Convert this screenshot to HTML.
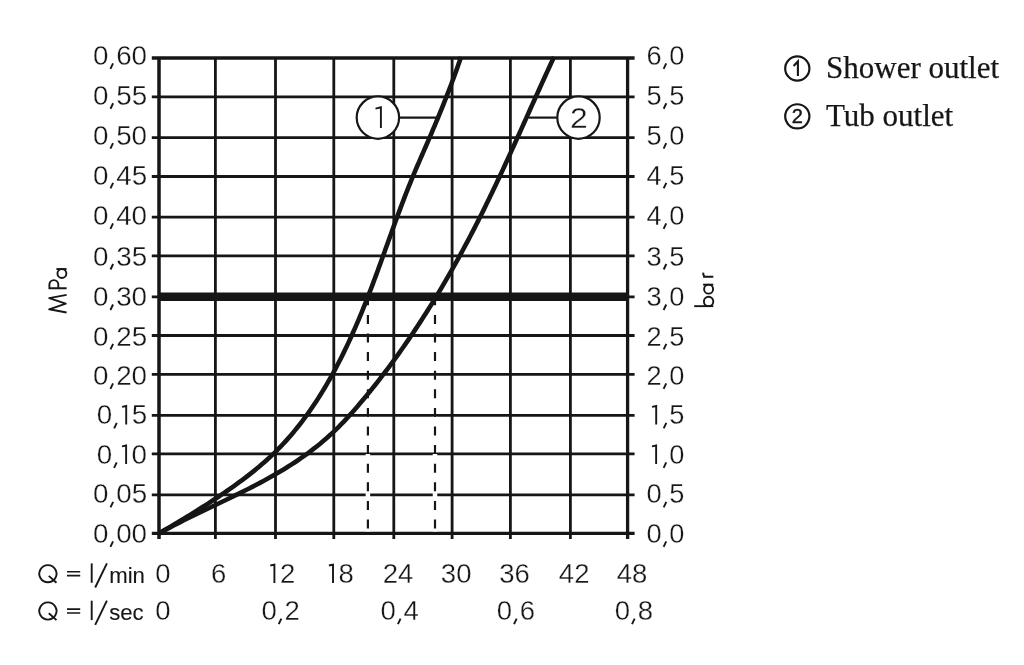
<!DOCTYPE html>
<html><head><meta charset="utf-8"><style>
html,body{margin:0;padding:0;background:#fff;width:1024px;height:665px;overflow:hidden}
svg{display:block;will-change:transform}
</style></head><body>
<svg width="1024" height="665" viewBox="0 0 1024 665">
<g stroke="#161616" fill="none">
<line x1="215.4" y1="58" x2="215.4" y2="538.9" stroke-width="2.8"/>
<line x1="275.5" y1="58" x2="275.5" y2="538.9" stroke-width="2.8"/>
<line x1="333.8" y1="58" x2="333.8" y2="538.9" stroke-width="2.8"/>
<line x1="393.8" y1="58" x2="393.8" y2="538.9" stroke-width="2.8"/>
<line x1="452.1" y1="58" x2="452.1" y2="538.9" stroke-width="2.8"/>
<line x1="510.4" y1="58" x2="510.4" y2="538.9" stroke-width="2.8"/>
<line x1="570.4" y1="58" x2="570.4" y2="538.9" stroke-width="2.8"/>
<line x1="151.8" y1="96.9" x2="634.6" y2="96.9" stroke-width="2.8"/>
<line x1="151.8" y1="137.6" x2="634.6" y2="137.6" stroke-width="2.8"/>
<line x1="151.8" y1="176.5" x2="634.6" y2="176.5" stroke-width="2.8"/>
<line x1="151.8" y1="217.2" x2="634.6" y2="217.2" stroke-width="2.8"/>
<line x1="151.8" y1="255.9" x2="634.6" y2="255.9" stroke-width="2.8"/>
<line x1="151.8" y1="335.5" x2="634.6" y2="335.5" stroke-width="2.8"/>
<line x1="151.8" y1="374.3" x2="634.6" y2="374.3" stroke-width="2.8"/>
<line x1="151.8" y1="415.3" x2="634.6" y2="415.3" stroke-width="2.8"/>
<line x1="151.8" y1="453.9" x2="634.6" y2="453.9" stroke-width="2.8"/>
<line x1="151.8" y1="494.8" x2="634.6" y2="494.8" stroke-width="2.8"/>
<line x1="159" y1="296.8" x2="627.6" y2="296.8" stroke-width="8.4"/>
<line x1="151.8" y1="296.8" x2="634.6" y2="296.8" stroke-width="2.8"/>
<line x1="151.8" y1="58" x2="634.6" y2="58" stroke-width="3.3"/>
<line x1="151.8" y1="533.4" x2="634.6" y2="533.4" stroke-width="3.3"/>
<line x1="159" y1="58" x2="159" y2="538.9" stroke-width="3.5"/>
<line x1="627.6" y1="58" x2="627.6" y2="538.9" stroke-width="3.3"/>
<line x1="367.9" y1="300" x2="367.9" y2="531.5" stroke="#fff" stroke-width="4.5" stroke-dasharray="0 5.2 9.6 3.8" stroke-dashoffset="0"/>
<line x1="435" y1="300" x2="435" y2="531.5" stroke="#fff" stroke-width="4.5" stroke-dasharray="0 5.2 9.6 3.8" stroke-dashoffset="0"/>
<path d="M159.00,533.40 L162.07,531.61 L165.16,529.81 L168.25,527.99 L171.35,526.16 L174.46,524.32 L177.58,522.46 L180.70,520.58 L183.83,518.70 L186.95,516.79 L190.08,514.88 L193.21,512.94 L196.33,511.00 L199.46,509.04 L202.58,507.06 L205.69,505.07 L208.80,503.07 L211.90,501.05 L214.99,499.02 L218.06,496.97 L221.13,494.91 L224.19,492.83 L227.23,490.74 L230.25,488.63 L233.26,486.51 L236.25,484.37 L239.22,482.21 L242.16,480.03 L245.09,477.82 L248.00,475.60 L250.87,473.35 L253.73,471.08 L256.55,468.77 L259.35,466.44 L262.12,464.09 L264.85,461.70 L267.56,459.27 L270.23,456.82 L272.87,454.33 L275.47,451.80 L278.03,449.24 L280.56,446.65 L283.05,444.02 L285.51,441.35 L287.93,438.66 L290.32,435.93 L292.68,433.17 L295.00,430.38 L297.29,427.56 L299.55,424.71 L301.77,421.83 L303.97,418.93 L306.13,415.99 L308.26,413.04 L310.36,410.05 L312.44,407.05 L314.48,404.01 L316.50,400.96 L318.48,397.88 L320.44,394.78 L322.37,391.66 L324.28,388.53 L326.15,385.37 L328.00,382.19 L329.83,379.00 L331.63,375.78 L333.41,372.55 L335.16,369.31 L336.88,366.05 L338.59,362.78 L340.27,359.49 L341.93,356.19 L343.56,352.88 L345.17,349.56 L346.77,346.23 L348.34,342.89 L349.89,339.54 L351.42,336.18 L352.93,332.81 L354.42,329.44 L355.89,326.06 L357.35,322.68 L358.79,319.29 L360.20,315.90 L361.61,312.51 L362.99,309.11 L364.36,305.71 L365.72,302.32 L367.05,298.92 L368.38,295.52 L369.69,292.12 L370.99,288.71 L372.28,285.31 L373.56,281.91 L374.83,278.51 L376.09,275.10 L377.35,271.70 L378.59,268.29 L379.83,264.89 L381.07,261.48 L382.30,258.07 L383.53,254.67 L384.76,251.26 L385.98,247.85 L387.21,244.44 L388.43,241.03 L389.66,237.63 L390.89,234.22 L392.12,230.81 L393.35,227.40 L394.59,223.99 L395.84,220.57 L397.09,217.16 L398.35,213.75 L399.62,210.34 L400.90,206.93 L402.19,203.52 L403.48,200.11 L404.80,196.70 L406.12,193.28 L407.46,189.87 L408.81,186.46 L410.18,183.05 L411.56,179.64 L412.96,176.22 L414.38,172.81 L415.82,169.40 L417.28,165.99 L418.75,162.58 L420.23,159.17 L421.72,155.76 L423.21,152.35 L424.70,148.93 L426.18,145.52 L427.65,142.11 L429.12,138.70 L430.58,135.30 L432.04,131.89 L433.48,128.48 L434.92,125.07 L436.34,121.66 L437.76,118.25 L439.17,114.85 L440.56,111.44 L441.95,108.03 L443.32,104.63 L444.68,101.22 L446.03,97.82 L447.36,94.42 L448.68,91.01 L449.99,87.61 L451.28,84.21 L452.55,80.81 L453.81,77.41 L455.05,74.01 L456.28,70.61 L457.48,67.21 L458.67,63.81 L459.84,60.42 L460.99,57.02" fill="none" stroke-width="4.6" stroke-linecap="butt" stroke-linejoin="round"/>
<path d="M159.00,533.40 L162.49,531.47 L166.00,529.56 L169.53,527.67 L173.07,525.81 L176.63,523.96 L180.20,522.13 L183.79,520.32 L187.39,518.53 L191.00,516.74 L194.62,514.97 L198.24,513.21 L201.88,511.45 L205.52,509.70 L209.16,507.95 L212.81,506.21 L216.45,504.46 L220.10,502.72 L223.75,500.97 L227.39,499.21 L231.04,497.45 L234.67,495.68 L238.31,493.90 L241.93,492.10 L245.55,490.29 L249.15,488.47 L252.75,486.63 L256.33,484.76 L259.90,482.88 L263.46,480.97 L267.00,479.04 L270.52,477.08 L274.03,475.10 L277.51,473.08 L280.98,471.03 L284.42,468.94 L287.84,466.83 L291.23,464.67 L294.60,462.47 L297.94,460.24 L301.25,457.96 L304.53,455.64 L307.78,453.29 L311.00,450.89 L314.18,448.44 L317.33,445.95 L320.43,443.42 L323.50,440.85 L326.53,438.23 L329.52,435.56 L332.46,432.85 L335.36,430.09 L338.22,427.28 L341.04,424.43 L343.82,421.55 L346.56,418.63 L349.27,415.68 L351.96,412.69 L354.61,409.68 L357.24,406.65 L359.85,403.60 L362.44,400.53 L365.01,397.44 L367.57,394.34 L370.10,391.22 L372.62,388.09 L375.13,384.95 L377.61,381.80 L380.09,378.63 L382.54,375.44 L384.98,372.25 L387.40,369.04 L389.81,365.82 L392.20,362.59 L394.58,359.34 L396.94,356.08 L399.28,352.81 L401.61,349.53 L403.92,346.24 L406.22,342.93 L408.50,339.61 L410.77,336.29 L413.02,332.95 L415.26,329.60 L417.49,326.24 L419.70,322.87 L421.89,319.49 L424.07,316.10 L426.24,312.70 L428.39,309.29 L430.52,305.87 L432.65,302.44 L434.76,299.01 L436.85,295.56 L438.94,292.10 L441.00,288.64 L443.06,285.17 L445.10,281.69 L447.13,278.20 L449.14,274.70 L451.15,271.19 L453.14,267.68 L455.11,264.16 L457.08,260.64 L459.03,257.10 L460.96,253.56 L462.89,250.01 L464.80,246.46 L466.71,242.90 L468.60,239.33 L470.47,235.76 L472.34,232.18 L474.19,228.60 L476.03,225.01 L477.86,221.41 L479.68,217.81 L481.49,214.21 L483.29,210.60 L485.07,206.98 L486.84,203.36 L488.61,199.74 L490.36,196.11 L492.11,192.48 L493.84,188.85 L495.57,185.21 L497.29,181.57 L499.00,177.92 L500.71,174.28 L502.41,170.63 L504.10,166.97 L505.78,163.32 L507.46,159.66 L509.14,156.00 L510.81,152.34 L512.47,148.67 L514.14,145.01 L515.80,141.34 L517.45,137.67 L519.11,134.00 L520.76,130.33 L522.41,126.66 L524.05,122.99 L525.70,119.32 L527.35,115.64 L529.00,111.97 L530.64,108.30 L532.29,104.63 L533.94,100.96 L535.59,97.28 L537.25,93.62 L538.90,89.95 L540.56,86.28 L542.23,82.61 L543.89,78.95 L545.56,75.28 L547.24,71.62 L548.92,67.96 L550.61,64.31 L552.30,60.65 L554.00,57.00" fill="none" stroke-width="4.6" stroke-linecap="butt" stroke-linejoin="round"/>
<line x1="367.9" y1="296.3" x2="367.9" y2="531" stroke-width="2.2" stroke-dasharray="9 9.6"/>
<line x1="435" y1="296.3" x2="435" y2="531" stroke-width="2.2" stroke-dasharray="9 9.6"/>
<line x1="400" y1="117.6" x2="436.3" y2="117.6" stroke-width="2.2"/>
<circle cx="377.9" cy="117.6" r="21.2" fill="#fff" stroke-width="2.2"/>
<line x1="528.4" y1="117.6" x2="556.8" y2="117.6" stroke-width="2.2"/>
<circle cx="578.5" cy="117.6" r="21.2" fill="#fff" stroke-width="2.2"/>
<path d="M67,571.8 H80.2 M67,575.6 H80.2" stroke-width="1.55"/>
<path d="M67,609.1 H80.2 M67,612.9 H80.2" stroke-width="1.55"/>
</g>
<g fill="#161616" font-family="Liberation Sans, sans-serif" font-size="27" stroke="#fff" stroke-width="0.3">
<text transform="translate(0,65) scale(1.03,1)" x="90.26 112.77 127.79" y="0">060</text>
<text transform="translate(0,65) scale(1.01,1)" x="640.06 662.58" y="0">60</text>
<text transform="translate(0,104.83) scale(1.03,1)" x="90.33 112.85 127.86" y="0">055</text>
<text transform="translate(0,104.83) scale(1.01,1)" x="640.13 662.65" y="0">55</text>
<text transform="translate(0,144.67) scale(1.03,1)" x="90.26 112.77 127.79" y="0">050</text>
<text transform="translate(0,144.67) scale(1.01,1)" x="640.06 662.58" y="0">50</text>
<text transform="translate(0,184.5) scale(1.03,1)" x="90.33 112.85 127.86" y="0">045</text>
<text transform="translate(0,184.5) scale(1.01,1)" x="640.13 662.65" y="0">45</text>
<text transform="translate(0,225.03) scale(1.03,1)" x="90.26 112.77 127.79" y="0">040</text>
<text transform="translate(0,225.03) scale(1.01,1)" x="640.06 662.58" y="0">40</text>
<text transform="translate(0,265.57) scale(1.03,1)" x="90.33 112.85 127.86" y="0">035</text>
<text transform="translate(0,265.57) scale(1.01,1)" x="640.13 662.65" y="0">35</text>
<text transform="translate(0,306.1) scale(1.03,1)" x="90.26 112.77 127.79" y="0">030</text>
<text transform="translate(0,306.1) scale(1.01,1)" x="640.06 662.58" y="0">30</text>
<text transform="translate(0,345.53) scale(1.03,1)" x="90.33 112.85 127.86" y="0">025</text>
<text transform="translate(0,345.53) scale(1.01,1)" x="640.13 662.65" y="0">25</text>
<text transform="translate(0,384.97) scale(1.03,1)" x="90.26 112.77 127.79" y="0">020</text>
<text transform="translate(0,384.97) scale(1.01,1)" x="640.06 662.58" y="0">20</text>
<text transform="translate(0,424.4) scale(1.03,1)" x="93.89 127.86" y="0">05</text>
<text transform="translate(0,424.4) scale(1.01,1)" x="662.65" y="0">5</text>
<text transform="translate(0,463.93) scale(1.03,1)" x="93.82 127.79" y="0">00</text>
<text transform="translate(0,463.93) scale(1.01,1)" x="662.58" y="0">0</text>
<text transform="translate(0,503.47) scale(1.03,1)" x="90.33 112.85 127.86" y="0">005</text>
<text transform="translate(0,503.47) scale(1.01,1)" x="640.13 662.65" y="0">05</text>
<text transform="translate(0,543) scale(1.03,1)" x="90.26 112.77 127.79" y="0">000</text>
<text transform="translate(0,543) scale(1.01,1)" x="640.06 662.58" y="0">00</text>
<text transform="translate(0,583) scale(1.02,1)" x="152.18" y="0">0</text>
<text transform="translate(0,583) scale(1.02,1)" x="206.96" y="0">6</text>
<text transform="translate(0,583) scale(1.02,1)" x="274.41" y="0">2</text>
<text transform="translate(0,583) scale(1.02,1)" x="331.86" y="0">8</text>
<text transform="translate(0,583) scale(1.02,1)" x="375.21 390.22" y="0">24</text>
<text transform="translate(0,583) scale(1.02,1)" x="432.21 447.22" y="0">30</text>
<text transform="translate(0,583) scale(1.02,1)" x="489.36 504.38" y="0">36</text>
<text transform="translate(0,583) scale(1.02,1)" x="547.91 562.92" y="0">42</text>
<text transform="translate(0,583) scale(1.02,1)" x="604.57 619.59" y="0">48</text>
<text transform="translate(0,620.3) scale(1.02,1)" x="152.18" y="0">0</text>
<text transform="translate(0,620.3) scale(1.02,1)" x="256.29 278.81" y="0">02</text>
<text transform="translate(0,620.3) scale(1.02,1)" x="373.16 395.67" y="0">04</text>
<text transform="translate(0,620.3) scale(1.02,1)" x="486.98 509.5" y="0">06</text>
<text transform="translate(0,620.3) scale(1.02,1)" x="602.67 625.18" y="0">08</text>
<text x="109.2" y="583" font-size="22.2" stroke="#161616" stroke-width="0.12">min</text>
<text x="109.2" y="620.3" font-size="22.2" stroke="#161616" stroke-width="0.12">sec</text>
<text transform="translate(0,127.9) scale(1.08,1)" x="527.82" y="0" font-size="29.5">2</text>
</g>
<g fill="#161616">
<circle cx="797.3" cy="68.5" r="12.1" fill="none" stroke="#161616" stroke-width="2.2"/>
<text x="826" y="78" font-family="Liberation Serif, serif" font-size="31" stroke="#161616" stroke-width="0.25">Shower outlet</text>
<circle cx="797.3" cy="116.35" r="12.1" fill="none" stroke="#161616" stroke-width="2.2"/>
<text x="797.4" y="122.5" text-anchor="middle" font-family="Liberation Sans, sans-serif" font-size="20" stroke="#161616" stroke-width="0.4">2</text>
<text x="826" y="125.5" font-family="Liberation Serif, serif" font-size="31" stroke="#161616" stroke-width="0.25">Tub outlet</text>
</g>
<g fill="none" stroke="#161616" stroke-width="1.9" stroke-linejoin="miter">
<path d="M110.43,68.90 L113.03,63.40"/>
<path d="M663.63,68.90 L666.23,63.40"/>
<path d="M110.51,108.73 L113.11,103.23"/>
<path d="M663.70,108.73 L666.30,103.23"/>
<path d="M110.43,148.57 L113.03,143.07"/>
<path d="M663.63,148.57 L666.23,143.07"/>
<path d="M110.51,188.40 L113.11,182.90"/>
<path d="M663.70,188.40 L666.30,182.90"/>
<path d="M110.43,228.93 L113.03,223.43"/>
<path d="M663.63,228.93 L666.23,223.43"/>
<path d="M110.51,269.47 L113.11,263.97"/>
<path d="M663.70,269.47 L666.30,263.97"/>
<path d="M110.43,310.00 L113.03,304.50"/>
<path d="M663.63,310.00 L666.23,304.50"/>
<path d="M110.51,349.43 L113.11,343.93"/>
<path d="M663.70,349.43 L666.30,343.93"/>
<path d="M110.43,388.87 L113.03,383.37"/>
<path d="M663.63,388.87 L666.23,383.37"/>
<path d="M114.17,428.30 L116.77,422.80"/>
<path d="M122.10,406.90 L126.20,406.00 L126.20,424.40"/>
<path d="M652.10,406.90 L656.20,406.00 L656.20,424.40"/>
<path d="M663.70,428.30 L666.30,422.80"/>
<path d="M114.10,467.83 L116.70,462.33"/>
<path d="M122.02,446.43 L126.12,445.53 L126.12,463.93"/>
<path d="M652.03,446.43 L656.13,445.53 L656.13,463.93"/>
<path d="M663.63,467.83 L666.23,462.33"/>
<path d="M110.51,507.37 L113.11,501.87"/>
<path d="M663.70,507.37 L666.30,501.87"/>
<path d="M110.43,546.90 L113.03,541.40"/>
<path d="M663.63,546.90 L666.23,541.40"/>
<path d="M270.30,565.50 L274.40,564.60 L274.40,583.00"/>
<path d="M328.90,565.50 L333.00,564.60 L333.00,583.00"/>
<path d="M278.74,624.20 L281.34,618.70"/>
<path d="M397.94,624.20 L400.54,618.70"/>
<path d="M514.04,624.20 L516.64,618.70"/>
<path d="M632.04,624.20 L634.64,618.70"/>
<path d="M47.9,565.1 a8.6,8.6 0 1,0 0.01,0 Z"/>
<path d="M48.8,575.9 L56.5,582.8"/>
<path d="M91.7,563.4 V582.8"/>
<path d="M106.9,563.4 L95.2,587.5"/>
<path d="M47.9,602.4 a8.6,8.6 0 1,0 0.01,0 Z"/>
<path d="M48.8,613.2 L56.5,620.1"/>
<path d="M91.7,600.7 V620.1"/>
<path d="M106.9,600.7 L95.2,624.8"/>
<path d="M375.5,108.6 L380.9,107.3 L380.9,127.9"/>
<path d="M793.6,65.9 L797.9,61.4 L797.9,75.9" stroke-width="2.1"/>
<g transform="translate(66.6,313.4) rotate(-90)" stroke-width="1.9"><path d="M0.9,0 L4.1,-17.4 L9.7,-0.8 L15.3,-17.4 L18.5,0" stroke-linejoin="round"/><path d="M25.2,0 V-17.2 H28.8 A4.45,4.45 0 0 1 28.8,-8.3 H25.2"/><circle cx="39.9" cy="-4.7" r="4.45"/><path d="M44.35,0 V-10.2"/></g>
<g transform="translate(713.3,307.1) rotate(-90)" stroke-width="1.9"><path d="M0.95,0 V-19.1"/><circle cx="5.65" cy="-4.7" r="4.7"/><circle cx="17.95" cy="-4.7" r="4.5"/><path d="M22.45,0 V-10.2"/><path d="M30.3,0 V-10.2 M30.3,-8.2 C31.2,-9.9 32.6,-10.3 34.4,-10.0"/></g>
</g>
</svg>
</body></html>
